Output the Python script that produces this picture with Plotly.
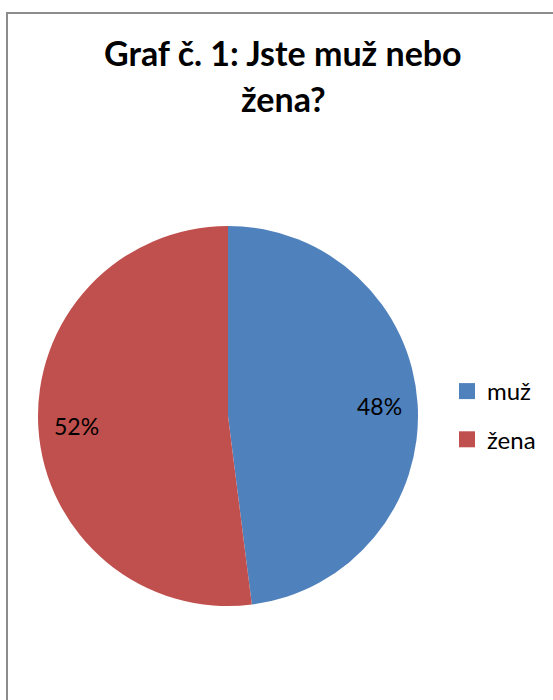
import numpy as np
import plotly.graph_objects as go

categories = ["muž", "žena"]
values = [48, 52]
colors = ["#4F81BD", "#C0504D"]
title_lines = ["Graf č. 1: Jste muž nebo", "žena?"]

W, H = 553, 700
FONT = "Lato"

# pie geometry (pixels)
cx, cy, R = 228, 416, 190

fig = go.Figure()
fig.add_trace(go.Pie(
    labels=categories, values=values, sort=False, direction="clockwise",
    rotation=0, marker=dict(colors=colors, line=dict(width=0)),
    textinfo="none", showlegend=False, hoverinfo="label+percent",
    domain=dict(x=[(cx - R) / W, (cx + R) / W], y=[(H - cy - R) / H, (H - cy + R) / H]),
))

# legend entries via empty scatter traces so spacing can be tuned
for c, col in zip(categories, colors):
    fig.add_trace(go.Scatter(
        x=[None], y=[None], mode="markers", name=c, legendgroup=c,
        marker=dict(symbol="square", size=16, color=col),
    ))

# percentage labels positioned from the data angles
vals = np.array(values, dtype=float)
frac = vals / vals.sum()
mid = (np.cumsum(frac) - frac / 2) * 2 * np.pi
annotations = []
for f, a in zip(frac, mid):
    px = cx + 0.8 * R * np.sin(a)
    py = cy - 0.8 * R * np.cos(a)
    annotations.append(dict(
        x=px / W, y=1 - py / H, xref="paper", yref="paper",
        text=f"{round(f * 100):.0f}%", showarrow=False,
        font=dict(family=FONT, size=23, color="#000000"),
        xanchor="center", yanchor="middle",
    ))

for txt, ypos in zip(title_lines, [52, 98]):
    annotations.append(dict(
        x=283 / W, y=1 - ypos / H, xref="paper", yref="paper",
        text=f"<b>{txt}</b>", showarrow=False,
        font=dict(family=FONT, size=34, color="#000000"),
        xanchor="center", yanchor="middle",
    ))

fig.update_layout(
    width=W, height=H,
    margin=dict(l=0, r=0, t=0, b=0),
    paper_bgcolor="white", plot_bgcolor="white",
    xaxis=dict(visible=False), yaxis=dict(visible=False),
    annotations=annotations,
    legend=dict(
        x=447 / W, y=1 - 369 / H, xanchor="left", yanchor="top",
        font=dict(family=FONT, size=24, color="#000000"),
        tracegroupgap=14, itemwidth=30, bgcolor="rgba(0,0,0,0)",
    ),
    shapes=[dict(
        type="rect", xref="paper", yref="paper",
        x0=7 / W, x1=1.1, y0=-0.1, y1=1 - 13 / H,
        line=dict(color="#8C8C8C", width=2), layer="below",
    )],
)

fig.write_html("out.html", config={"displayModeBar": False},
               post_script="document.body.style.margin='0px';")
